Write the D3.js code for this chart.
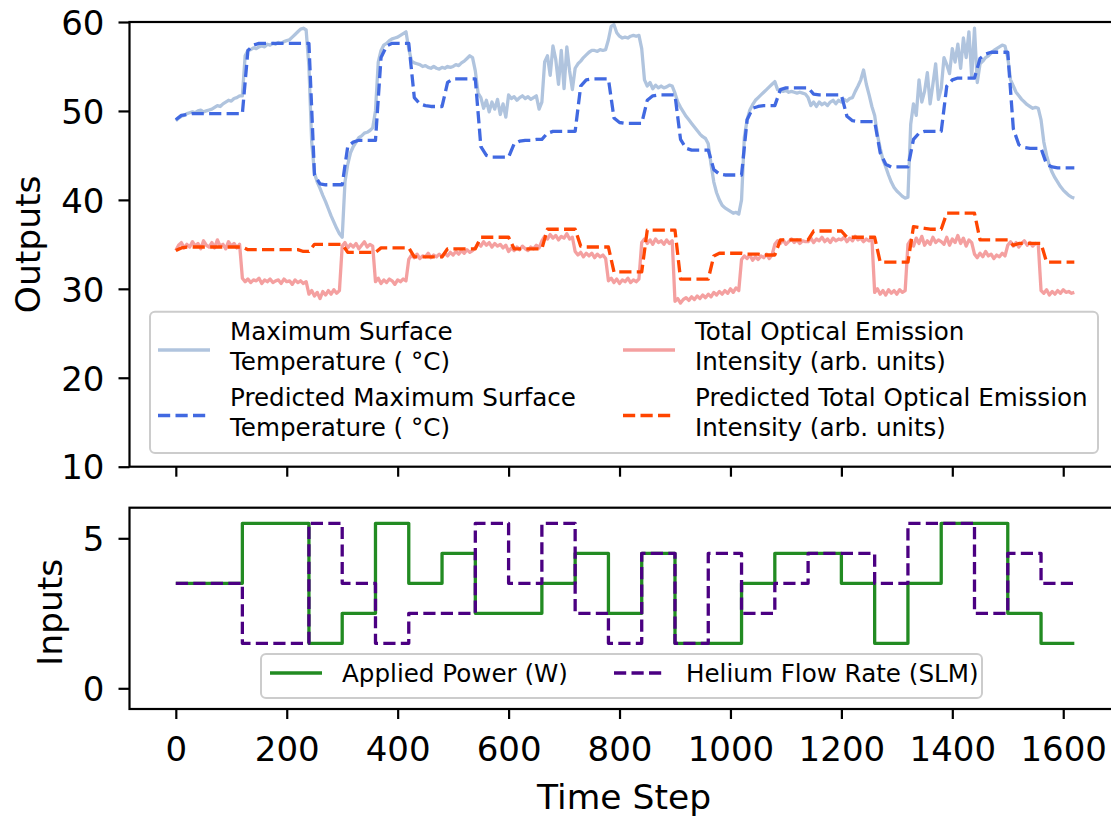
<!DOCTYPE html>
<html>
<head>
<meta charset="utf-8">
<script src="https://cdn.jsdelivr.net/npm/d3@7"></script>
<style>
  body { margin: 0; background: #fff; }
  svg { display: block; font-family: "DejaVu Sans", sans-serif; }
</style>
</head>
<body>
<svg id="chart"></svg>
<script>
// measured series, one value every 5 time steps (one row = 60 steps)
const tempMeasured = [
  48.9, 49.2, 49.4, 49.5, 49.7, 49.8, 49.9, 49.8, 50.0, 50.1, 49.9, 50.0,
  50.1, 50.2, 50.4, 50.6, 50.5, 50.8, 51.0, 51.2, 51.1, 51.4, 51.5, 51.7,
  51.7, 56.2, 56.8, 56.9, 57.1, 57.0, 57.2, 57.3, 57.2, 57.5, 57.4, 57.6,
  57.5, 57.7, 57.6, 57.8, 57.9, 58.0, 58.3, 58.6, 58.9, 59.2, 59.3, 59.1,
  55.0, 46.5, 43.0, 42.0, 41.3, 40.5, 39.8, 39.0, 38.2, 37.5, 36.8, 36.2,
  35.8, 42.0, 44.0, 45.3, 46.0, 46.5, 47.0, 47.2, 47.5, 47.6, 47.8, 48.1,
  50.0, 55.5, 56.8, 57.4, 57.6, 57.9, 58.1, 58.2, 58.3, 58.5, 58.7, 58.9,
  57.0, 55.6, 55.4, 55.3, 55.2, 55.0, 55.1, 54.9, 54.8, 55.0, 54.8, 54.7,
  54.9, 54.8, 55.0, 54.9, 55.0, 55.2, 55.1, 55.4, 55.6, 55.9, 56.2, 56.0,
  54.5, 52.0, 51.5, 50.3, 51.2, 49.9, 51.0, 50.2, 51.3, 49.6, 50.8, 49.3,
  51.8, 51.4, 51.6, 51.2, 51.5, 51.7, 51.4, 51.6, 51.3, 51.5, 51.7, 50.2,
  51.0, 55.5, 56.2, 54.0, 57.3, 55.8, 53.0, 56.8, 52.5, 57.2, 54.5, 52.4,
  54.8, 55.3, 55.6, 56.0, 56.3, 56.6, 56.8, 56.8, 56.7, 56.9, 56.8, 56.9,
  58.0, 59.5, 59.7, 58.8, 58.4, 58.2, 58.3, 58.2, 58.4, 58.5, 58.4, 58.5,
  57.0, 53.5, 52.8, 53.2, 52.5, 52.9, 52.6, 52.8, 52.6, 52.7, 52.9, 52.8,
  52.0, 51.0, 50.4, 49.9, 49.4, 49.0, 48.6, 48.2, 47.8, 47.4, 47.1, 46.9,
  46.3, 44.0, 42.0, 40.8, 40.0, 39.4, 39.1, 38.9, 38.7, 38.5, 38.6, 38.4,
  40.0, 47.0, 49.0, 50.1, 50.7, 51.2, 51.5, 51.8, 52.1, 52.4, 52.7, 53.0,
  53.3, 52.4, 52.3, 52.2, 52.3, 52.1, 52.2, 52.1, 52.0, 52.1, 52.0, 51.9,
  51.5, 50.6, 51.0, 50.5, 51.0, 50.7, 50.9, 50.6, 51.0, 51.2, 50.8, 51.2,
  51.0, 51.3, 51.1, 51.4, 51.5, 52.2, 52.8, 53.5, 54.6, 53.0, 51.8, 50.5,
  49.5, 47.3, 45.8, 44.5, 43.7, 42.8, 42.0, 41.4, 41.0, 40.7, 40.4, 40.2,
  40.3, 48.5, 50.8, 49.5, 53.5, 51.0, 52.2, 54.3, 50.8, 53.0, 55.3, 51.3,
  52.5, 56.0, 55.2, 54.2, 57.0, 55.5, 57.5, 54.8, 58.2, 56.0, 58.9, 53.8,
  59.3, 53.2, 55.3, 55.6, 56.0, 56.2, 56.5, 56.8, 57.0, 57.2, 57.4, 57.3,
  56.0, 53.5, 52.8, 52.1, 51.7, 51.3, 51.0, 50.7, 50.5, 50.3, 50.4, 50.3,
  49.0, 46.5, 45.0, 43.9, 43.1, 42.5, 42.0, 41.5, 41.1, 40.8, 40.5, 40.3,
  40.2
];

const oesMeasured = [
  34.3, 34.9, 35.2, 34.6, 35.0, 34.7, 35.3, 34.8, 35.1, 34.5, 35.4, 34.9,
  34.7, 35.2, 34.6, 35.5, 34.8, 35.0, 34.5, 35.3, 34.8, 35.1, 34.6, 35.0,
  31.2, 30.8, 31.1, 30.7, 31.0, 30.9, 31.2, 30.6, 31.0, 30.8, 31.1, 30.7,
  30.9, 31.0, 30.6, 31.1, 30.8, 30.9, 30.5, 31.0, 30.7, 30.9, 30.6, 30.8,
  29.4, 29.8, 29.2, 29.6, 28.9, 29.7, 29.3, 29.8, 29.4, 29.9, 29.5, 29.8,
  34.8, 35.2, 34.6, 35.0, 34.7, 35.1, 34.5, 34.9, 35.3, 34.7, 35.0, 34.8,
  30.8, 31.2, 30.6, 31.0, 30.7, 31.1, 30.9, 30.5, 31.0, 30.8, 31.1, 30.9,
  33.3, 33.8, 33.5, 33.9, 33.4, 33.7, 33.6, 34.0, 33.5, 33.8, 33.6, 33.9,
  33.6, 34.0, 33.7, 34.1, 33.8, 34.2, 33.9, 34.3, 34.0, 34.4, 34.1, 34.3,
  34.6, 35.1, 34.8, 35.3, 34.9, 35.2, 34.7, 35.1, 34.8, 35.0, 34.6, 34.9,
  34.2, 34.6, 34.3, 34.7, 34.4, 34.8, 34.5, 34.3, 34.7, 34.5, 34.9, 34.6,
  35.4, 35.9, 35.6, 36.1, 35.7, 36.0, 35.5, 35.9, 35.7, 36.2, 35.6, 35.8,
  34.2, 33.8, 34.1, 33.6, 34.0, 33.7, 34.0, 33.5, 33.9, 33.6, 33.8, 33.4,
  30.9, 31.2, 30.7, 31.1, 30.6, 31.0, 30.8, 31.2, 30.7, 31.0, 30.8, 31.1,
  35.2, 35.6, 35.1, 35.5, 35.0, 35.6, 35.2, 35.4, 35.0, 35.5, 35.1, 35.4,
  28.6, 28.9, 28.4, 28.8, 29.0, 28.7, 29.1, 28.8, 29.2, 28.9, 29.3, 29.0,
  29.4, 29.1, 29.6, 29.3, 29.7, 29.4, 29.8, 29.5, 30.0, 29.6, 30.1, 29.8,
  33.3, 33.7, 33.4, 33.8, 33.2, 33.6, 33.3, 33.7, 33.5, 33.9, 33.4, 33.8,
  35.0, 35.4, 35.1, 35.5, 35.0, 35.3, 35.6, 35.2, 35.5, 35.1, 35.4, 35.3,
  35.3, 35.7, 35.2, 35.6, 35.4, 35.8, 35.3, 35.6, 35.2, 35.7, 35.4, 35.6,
  35.5, 35.8, 35.3, 35.7, 35.4, 35.9, 35.5, 35.7, 35.3, 35.6, 35.4, 35.7,
  29.6, 30.0, 29.4, 29.8, 29.3, 29.9, 29.5, 29.8, 29.4, 29.9, 29.6, 29.8,
  35.0, 35.5, 34.8, 35.7, 35.1, 35.9, 34.9, 35.4, 35.0, 35.8, 35.2, 35.5,
  35.3, 35.0, 35.8, 34.9, 35.6, 35.2, 36.0, 35.1, 35.7, 34.8, 35.5, 35.2,
  33.9, 33.5, 34.0, 33.6, 34.2, 33.7, 33.9, 33.4, 33.8, 33.6, 34.0, 33.7,
  34.9, 35.3, 34.8, 35.2, 34.7, 35.1, 35.4, 34.9, 35.2, 34.8, 35.1, 35.0,
  29.8, 29.5, 29.9, 29.3, 29.7, 29.4, 29.8, 29.5, 29.9, 29.6, 29.7, 29.5,
  29.6
];

// model predictions, one value every 10 time steps
const tempPredicted = [
  49.0, 49.5, 49.6, 49.7, 49.7, 49.7,  49.7, 49.7, 49.7, 49.7, 49.7, 49.7,
  49.7, 56.8, 57.4, 57.6, 57.6, 57.6,  57.6, 57.6, 57.6, 57.6, 57.6, 57.6,
  57.6, 42.8, 41.8, 41.7, 41.7, 41.7,  41.7, 46.0, 46.5, 46.7, 46.7, 46.7,
  46.7, 56.0, 57.3, 57.6, 57.6, 57.6,  57.6, 51.5, 50.8, 50.6, 50.5, 50.5,
  50.5, 53.2, 53.6, 53.6, 53.6, 53.6,  53.6, 46.0, 45.0, 44.8, 44.8, 44.8,
  44.8, 46.3, 46.6, 46.7, 46.7, 46.8,  46.8, 47.5, 47.7, 47.7, 47.7, 47.7,
  47.7, 52.8, 53.5, 53.6, 53.6, 53.6,  53.6, 49.2, 48.7, 48.6, 48.6, 48.6,
  48.6, 51.2, 51.7, 51.8, 51.8, 51.8,  51.8, 46.8, 45.8, 45.6, 45.6, 45.6,
  45.6, 43.4, 42.9, 42.8, 42.8, 42.8,  42.8, 49.0, 50.3, 50.5, 50.6, 50.6,
  50.6, 52.4, 52.6, 52.6, 52.6, 52.6,  52.6, 51.9, 51.8, 51.8, 51.8, 51.8,
  51.8, 49.4, 48.9, 48.8, 48.8, 48.8,  48.8, 45.3, 44.0, 43.7, 43.7, 43.7,
  43.7, 46.8, 47.5, 47.7, 47.7, 47.7,  47.7, 52.8, 53.5, 53.7, 53.7, 53.7,
  53.7, 55.9, 56.4, 56.6, 56.6, 56.6,  56.6, 48.0, 46.2, 45.9, 45.8, 45.8,
  45.8, 44.0, 43.7, 43.6, 43.6, 43.6,  43.6
];

const oesPredicted = [
  34.3, 34.6, 34.7, 34.7, 34.7, 34.7,  34.7, 34.7, 34.7, 34.7, 34.7, 34.7,
  34.7, 34.4, 34.4, 34.4, 34.4, 34.4,  34.4, 34.4, 34.4, 34.4, 34.4, 34.2,
  34.2, 35.0, 35.0, 35.0, 35.0, 35.0,  35.0, 34.1, 34.1, 34.1, 34.1, 34.1,
  34.1, 34.6, 34.6, 34.6, 34.6, 34.6,  34.6, 33.6, 33.6, 33.6, 33.6, 33.6,
  33.6, 34.5, 34.5, 34.5, 34.5, 34.5,  34.5, 35.8, 35.8, 35.8, 35.8, 35.8,
  35.8, 34.5, 34.5, 34.5, 34.5, 34.5,  34.5, 36.7, 36.7, 36.7, 36.7, 36.7,
  36.7, 34.8, 34.7, 34.7, 34.7, 34.7,  34.7, 31.9, 31.9, 31.9, 31.9, 31.9,
  31.9, 36.6, 36.6, 36.6, 36.6, 36.6,  36.6, 31.1, 31.1, 31.1, 31.1, 31.1,
  31.1, 33.7, 34.0, 34.0, 34.0, 34.0,  34.0, 33.9, 33.9, 33.9, 33.8, 33.8,
  33.8, 35.5, 35.5, 35.5, 35.5, 35.5,  35.5, 36.5, 36.5, 36.5, 36.5, 36.5,
  36.5, 35.8, 35.8, 35.8, 35.8, 35.8,  35.8, 33.0, 33.0, 33.0, 33.0, 33.0,
  33.0, 37.0, 36.9, 36.8, 36.7, 36.7,  36.7, 38.5, 38.5, 38.5, 38.5, 38.5,
  38.5, 35.5, 35.5, 35.5, 35.5, 35.5,  35.5, 34.9, 35.1, 35.1, 35.1, 35.1,
  35.1, 33.0, 33.0, 33.0, 33.0, 33.0,  33.0
];

// inputs, one level per 60-step block
const appliedPower = [3.5, 3.5, 5.5, 5.5, 1.5, 2.5, 5.5, 3.5, 4.5, 2.5, 2.5, 3.5, 4.5, 2.5,
                      4.5, 1.5, 1.5, 3.5, 4.5, 4.5, 3.5, 1.5, 3.5, 5.5, 5.5, 2.5, 1.5];
const heliumFlow = [3.5, 3.5, 1.5, 1.5, 5.5, 3.5, 1.5, 2.5, 2.5, 5.5, 3.5, 5.5, 2.5, 1.5,
                    4.5, 1.5, 4.5, 2.5, 3.5, 4.5, 4.5, 3.5, 5.5, 5.5, 2.5, 4.5, 3.5];

const xTicks = [0, 200, 400, 600, 800, 1000, 1200, 1400, 1600];
const outTicks = [10, 20, 30, 40, 50, 60];
const inTicks = [0, 5];

const W = 1111, H = 816;
const left = 129.5, right = 1118.7;
const topBox = { y0: 22, y1: 466.7 };
const botBox = { y0: 507.7, y1: 709 };

const svg = d3.select("#chart").attr("width", W).attr("height", H);

const x = d3.scaleLinear().domain([-83.5, 1700]).range([left, right]);
const yTop = d3.scaleLinear().domain([10, 60]).range([topBox.y1, topBox.y0]);
const yBot = d3.scaleLinear().domain([-0.69, 6.02]).range([botBox.y1, botBox.y0]);

const defs = svg.append("defs");
defs.append("clipPath").attr("id", "clipTop").append("rect")
  .attr("x", left).attr("y", topBox.y0).attr("width", right - left).attr("height", topBox.y1 - topBox.y0);
defs.append("clipPath").attr("id", "clipBot").append("rect")
  .attr("x", left).attr("y", botBox.y0).attr("width", right - left).attr("height", botBox.y1 - botBox.y0);

const LW = 3.3;
const DASH = "12.2,5.3";

function drawLine(g, pts, y, color, dash, opacity, curve) {
  const line = d3.line().x(d => x(d[0])).y(d => y(d[1])).curve(curve || d3.curveLinear);
  g.append("path")
    .datum(pts)
    .attr("d", line)
    .attr("fill", "none")
    .attr("stroke", color)
    .attr("stroke-width", LW)
    .attr("stroke-opacity", opacity)
    .attr("stroke-dasharray", dash)
    .attr("stroke-linejoin", "round");
}

// top panel
const gTop = svg.append("g").attr("clip-path", "url(#clipTop)");
drawLine(gTop, tempMeasured.map((v, i) => [i * 5, v]), yTop, "#b0c4de", null, 1);
drawLine(gTop, tempPredicted.map((v, i) => [i * 10, v]), yTop, "#4169e1", DASH, 1);
drawLine(gTop, oesMeasured.map((v, i) => [i * 5, v]), yTop, "#f08080", null, 0.75);
drawLine(gTop, oesPredicted.map((v, i) => [i * 10, v]), yTop, "#ff4500", DASH, 1);

// bottom panel (step inputs)
const steps = arr => arr.map((v, i) => [i * 60, v]).concat([[arr.length * 60, arr[arr.length - 1]]]);
const gBot = svg.append("g").attr("clip-path", "url(#clipBot)");
drawLine(gBot, steps(appliedPower), yBot, "#228b22", null, 1, d3.curveStepAfter);
drawLine(gBot, steps(heliumFlow), yBot, "#4b0082", DASH, 1, d3.curveStepAfter);

// axes
function styleAxis(g, size) {
  g.select(".domain").remove();
  g.selectAll(".tick line").attr("stroke", "#000").attr("stroke-width", 2.2);
  g.selectAll(".tick text").attr("fill", "#000").style("font-size", size + "px").style("font-family", "DejaVu Sans");
}

const TICK = 34;
svg.append("g").attr("transform", `translate(0,${topBox.y1})`)
  .call(d3.axisBottom(x).tickValues(xTicks).tickSize(10).tickFormat(""))
  .call(g => styleAxis(g, TICK));
svg.append("g").attr("transform", `translate(0,${botBox.y1})`)
  .call(d3.axisBottom(x).tickValues(xTicks).tickSize(10).tickFormat(d3.format("d")))
  .call(g => styleAxis(g, TICK))
  .call(g => g.selectAll(".tick text").attr("y", 52).attr("dy", null));
svg.append("g").attr("transform", `translate(${left},0)`)
  .call(d3.axisLeft(yTop).tickValues(outTicks).tickSize(11).tickPadding(14).tickFormat(d3.format("d")))
  .call(g => styleAxis(g, TICK))
  .call(g => g.selectAll(".tick text").attr("dy", "0.36em"));
svg.append("g").attr("transform", `translate(${left},0)`)
  .call(d3.axisLeft(yBot).tickValues(inTicks).tickSize(11).tickPadding(14).tickFormat(d3.format("d")))
  .call(g => styleAxis(g, TICK))
  .call(g => g.selectAll(".tick text").attr("dy", "0.36em"));

// frames
[topBox, botBox].forEach(b => {
  svg.append("rect")
    .attr("x", left).attr("y", b.y0)
    .attr("width", right - left).attr("height", b.y1 - b.y0)
    .attr("fill", "none").attr("stroke", "#000").attr("stroke-width", 2.2);
});

// axis labels
const LABEL = 34.5;
svg.append("text").attr("x", (left + right) / 2).attr("y", 809)
  .attr("text-anchor", "middle").style("font-size", LABEL + "px").text("Time Step");
svg.append("text").attr("transform", `translate(40,${(topBox.y0 + topBox.y1) / 2}) rotate(-90)`)
  .attr("text-anchor", "middle").style("font-size", LABEL + "px").text("Outputs");
svg.append("text").attr("transform", `translate(62,${(botBox.y0 + botBox.y1) / 2 + 4}) rotate(-90)`)
  .attr("text-anchor", "middle").style("font-size", LABEL + "px").text("Inputs");

// legends
const LEG = 24.6;
function legendBox(x0, y0, w, h) {
  svg.append("rect").attr("x", x0).attr("y", y0).attr("width", w).attr("height", h)
    .attr("rx", 5).attr("fill", "#fff").attr("fill-opacity", 0.8)
    .attr("stroke", "#cccccc").attr("stroke-width", 2);
}
function legendItem(hx, hy, color, dash, opacity, lines, firstBase) {
  svg.append("line").attr("x1", hx).attr("x2", hx + 52).attr("y1", hy).attr("y2", hy)
    .attr("stroke", color).attr("stroke-width", LW).attr("stroke-opacity", opacity)
    .attr("stroke-dasharray", dash);
  const t = svg.append("text").attr("x", hx + 72).attr("y", hy + firstBase).style("font-size", LEG + "px");
  lines.forEach((s, i) => {
    t.append("tspan").attr("x", hx + 72).attr("dy", i === 0 ? 0 : 29.5).text(s);
  });
}

legendBox(150, 311.7, 948, 141.3);
legendItem(158, 350, "#b0c4de", null, 1, ["Maximum Surface", "Temperature ( °C)"], -10);
legendItem(158, 415.5, "#4169e1", DASH, 1, ["Predicted Maximum Surface", "Temperature ( °C)"], -9.5);
legendItem(623, 350, "#f08080", null, 0.75, ["Total Optical Emission", "Intensity (arb. units)"], -10);
legendItem(623, 415.5, "#ff4500", DASH, 1, ["Predicted Total Optical Emission", "Intensity (arb. units)"], -9.5);

legendBox(261, 654, 721, 44);
legendItem(270, 673, "#228b22", null, 1, ["Applied Power (W)"], 9);
legendItem(614, 673, "#4b0082", DASH, 1, ["Helium Flow Rate (SLM)"], 9);
</script>
</body>
</html>
